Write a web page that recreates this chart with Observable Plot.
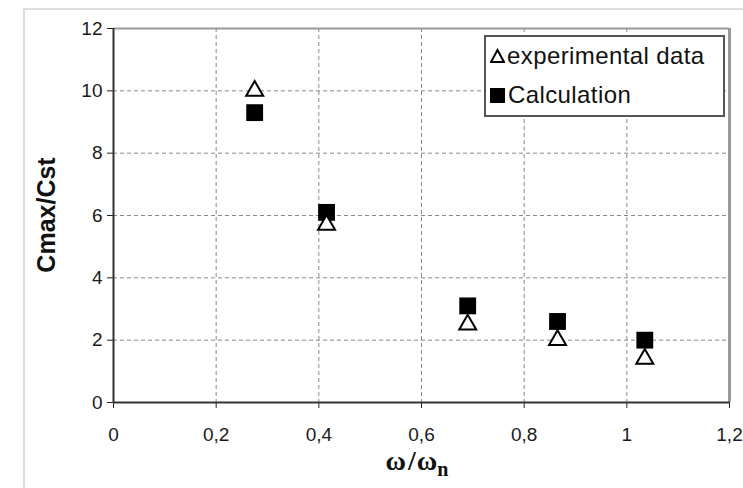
<!DOCTYPE html>
<html>
<head>
<meta charset="utf-8">
<script src="https://cdn.jsdelivr.net/npm/d3@7"></script>
<script src="https://cdn.jsdelivr.net/npm/@observablehq/plot@0.6"></script>
<style>
  html, body { margin: 0; padding: 0; background: #fff; }
  #wrap { position: relative; width: 743px; height: 488px; overflow: hidden; font-family: "Liberation Sans", Arial, sans-serif; }
  #outer { position: absolute; left: 23px; top: 8px; width: 800px; height: 600px; border-left: 2px solid #ddd; border-top: 2px solid #ddd; }
  #legend { position: absolute; left: 484px; top: 35px; width: 237px; height: 78px; border: 2px solid #555; background: #fff; color: #111; font-size: 24px; letter-spacing: 0.4px; }
  .row { position: absolute; left: 4px; display: flex; align-items: center; gap: 2px; line-height: 28px; }
</style>
</head>
<body>
<div id="wrap">
  <div id="outer"></div>
  <div id="chart"></div>
  <div id="legend">
    <div class="row" style="top:5px"><svg width="15" height="16"><path d="M7.5,2 L14,14 L1,14 Z" fill="#fff" stroke="#000" stroke-width="2"/></svg><span>experimental data</span></div>
    <div class="row" style="top:44px"><svg width="16" height="16"><rect x="0" y="1" width="15" height="15" fill="#000"/></svg><span>Calculation</span></div>
  </div>
</div>
<script>
const ratio = [0.275, 0.415, 0.69, 0.865, 1.035];
const experimental = [10.0, 5.7, 2.5, 2.0, 1.4];
const calculation = [9.3, 6.1, 3.1, 2.6, 2.0];
const xTicks = [0, 0.2, 0.4, 0.6, 0.8, 1, 1.2];
const yTicks = [0, 2, 4, 6, 8, 10, 12];

const expData = ratio.map((x, i) => ({x, y: experimental[i]}));
const calcData = ratio.map((x, i) => ({x, y: calculation[i]}));
const fmt = d => String(d).replace(".", ",");

const plot = Plot.plot({
  width: 743,
  height: 488,
  marginLeft: 113,
  marginRight: 14,
  marginTop: 28,
  marginBottom: 86,
  style: {fontFamily: "Liberation Sans, Arial, sans-serif", fontSize: "19px", color: "#1a1a1a", background: "transparent"},
  x: {domain: [0, 1.2]},
  y: {domain: [0, 12]},
  marks: [
    Plot.gridX(xTicks.slice(1, -1), {stroke: "#888", strokeOpacity: 1, strokeWidth: 1, strokeDasharray: "4,3"}),
    Plot.gridY(yTicks.slice(1, -1), {stroke: "#888", strokeOpacity: 1, strokeWidth: 1, strokeDasharray: "4,3"}),
    Plot.ruleY([12], {stroke: "#999", strokeWidth: 2}),
    Plot.ruleX([1.2], {stroke: "#999", strokeWidth: 3}),
    Plot.axisX({ticks: xTicks, tickFormat: fmt, tickSize: 6, tickPadding: 19, fontSize: 19, label: null, stroke: "#222"}),
    Plot.axisY({ticks: yTicks, tickSize: 6, tickPadding: 5, fontSize: 19, label: null, stroke: "#222"}),
    Plot.ruleX([0], {stroke: "#333", strokeWidth: 2}),
    Plot.ruleY([0], {stroke: "#333", strokeWidth: 2}),
    Plot.dot(calcData, {x: "x", y: "y", symbol: "square", r: 9.5, fill: "#000", stroke: "none"}),
    Plot.dot(expData, {x: "x", y: "y", symbol: "triangle", r: 6.3, fill: "#fff", stroke: "#000", strokeWidth: 2})
  ]
});
document.getElementById("chart").appendChild(plot);

const svg = d3.select(plot);
// y axis title
svg.append("text")
  .attr("transform", "translate(55,215) rotate(-90)")
  .attr("text-anchor", "middle")
  .attr("font-family", "Liberation Sans, Arial, sans-serif")
  .attr("font-weight", "bold")
  .attr("font-size", 25)
  .attr("fill", "#111")
  .text("Cmax/Cst");
// x axis title with subscript
const xt = svg.append("text")
  .attr("x", 417).attr("y", 470)
  .attr("text-anchor", "middle")
  .attr("font-family", "Liberation Serif, Times New Roman, serif")
  .attr("font-weight", "bold")
  .attr("font-size", 28)
  .attr("fill", "#111");
xt.append("tspan").text("ω");
xt.append("tspan").attr("dx", 2).text("/");
xt.append("tspan").attr("dx", 1).text("ω");
xt.append("tspan").attr("font-size", 20).attr("dy", 6).text("n");
</script>
</body>
</html>
